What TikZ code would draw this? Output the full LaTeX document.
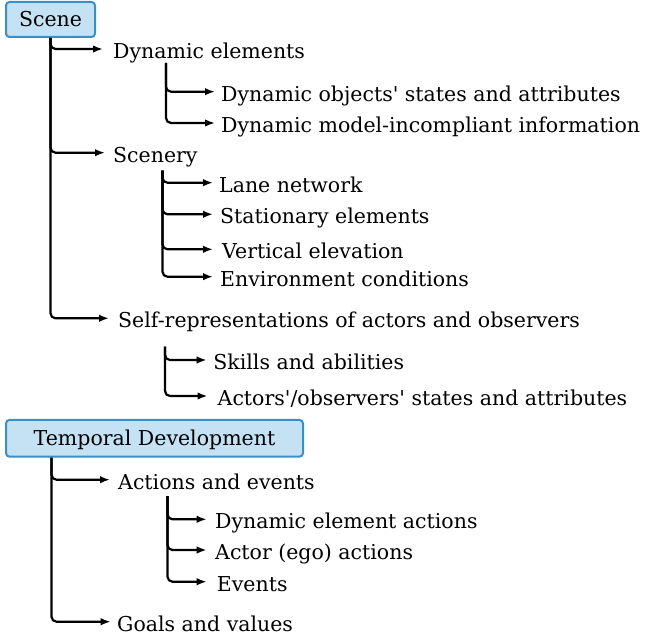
\documentclass[tikz,border=0pt]{standalone}
\usepackage{fontspec}
\setmainfont{DejaVu Serif}
\usetikzlibrary{arrows.meta}
\definecolor{catfill}{HTML}{C5E2F5}
\definecolor{catborder}{HTML}{3A8FC7}
\begin{document}
\begin{tikzpicture}[x=1pt,y=-1pt,
  every node/.style={font=\fontsize{20.5}{25}\selectfont},
  arr/.style={line width=2.2pt,-{Latex[length=10pt,width=7.5pt]},rounded corners=5pt},
  item/.style={anchor=west,inner ysep=0pt,text height=19pt,text depth=0pt},
  cat/.style={draw=catborder,fill=catfill,line width=2pt,rounded corners=3.5pt,
    inner sep=0pt,text height=15pt,text depth=0pt}]
\useasboundingbox (0,0) rectangle (650,639);

% Scene
\node[cat,minimum width=89pt,minimum height=35pt] (scene) at (50.5,19.5) {Scene};
\node[item,inner xsep=10pt] (de) at (103,49) {Dynamic elements};
\coordinate (det) at (166,63);
\node[item,inner xsep=6pt] (do) at (215,91.7) {Dynamic objects\textquotesingle{} states and attributes};
\node[item,inner xsep=6pt] (dm) at (215,123) {Dynamic model-incompliant information};
\node[item,inner xsep=8pt] (sc) at (105,152.7) {Scenery};
\coordinate (sct) at (162.5,170.7);
\node[item,inner xsep=6pt] (ln) at (213,182.7) {Lane network};
\node[item,inner xsep=7pt] (se) at (213,214.3) {Stationary elements};
\node[item,inner xsep=9pt] (ve) at (213,249.3) {Vertical elevation};
\node[item,inner xsep=7pt] (ec) at (213,276.7) {Environment conditions};
\node[item,inner xsep=9pt] (sr) at (109,318.3) {Self-representations of actors and observers};
\coordinate (srt) at (165,346.7);
\node[item,inner xsep=6.5pt] (sk) at (206.7,360) {Skills and abilities};
\node[item,inner xsep=10pt] (ao) at (207.5,396) {Actors\textquotesingle/observers\textquotesingle{} states and attributes};

\draw[arr] (scene.south) |- (de.west);
\draw[arr] (scene.south) |- (sc.west);
\draw[arr] (scene.south) |- (sr.west);
\draw[arr] (det) |- (do.west);
\draw[arr] (det) |- (dm.west);
\draw[arr] (sct) |- (ln.west);
\draw[arr] (sct) |- (se.west);
\draw[arr] (sct) |- (ve.west);
\draw[arr] (sct) |- (ec.west);
\draw[arr] (srt) |- (sk.west);
\draw[arr] (srt) |- (ao.west);

% Temporal Development
\node[cat,minimum width=297pt,minimum height=36.7pt] (td) at (154.5,438.3) {Temporal Development};
\coordinate (tdt) at ([xshift=46.5pt]td.south west);
\node[item,inner xsep=8pt] (ae) at (110,479.7) {Actions and events};
\coordinate (aet) at (167.5,496);
\node[item,inner xsep=8.3pt] (dea) at (206.7,519.3) {Dynamic element actions};
\node[item,inner xsep=8.3pt] (aea) at (206.7,550) {Actor (ego) actions};
\node[item,inner xsep=10pt] (ev) at (206.7,581.7) {Events};
\node[item,inner xsep=6.3pt] (gv) at (110.7,621.7) {Goals and values};

\draw[arr] (tdt) |- (ae.west);
\draw[arr] (tdt) |- (gv.west);
\draw[arr] (aet) |- (dea.west);
\draw[arr] (aet) |- (aea.west);
\draw[arr] (aet) |- (ev.west);
\end{tikzpicture}
\end{document}
